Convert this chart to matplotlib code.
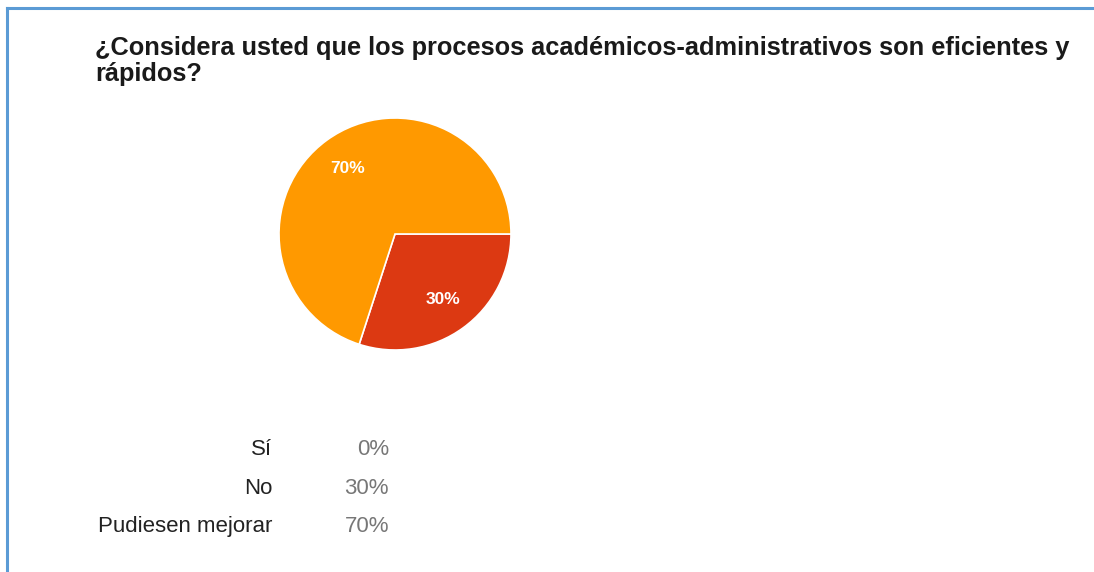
import matplotlib
matplotlib.use("Agg")
import matplotlib.pyplot as plt
from matplotlib.lines import Line2D

W, H = 1094, 572
title_lines = ["¿Considera usted que los procesos académicos-administrativos son eficientes y",
               "rápidos?"]
categories = ["Sí", "No", "Pudiesen mejorar"]
values = [0, 30, 70]
colors = ["#3366CC", "#DC3912", "#FF9900"]

plt.rcParams['font.family'] = ['Liberation Sans', 'DejaVu Sans']
fig = plt.figure(figsize=(W / 100, H / 100), dpi=100)
fig.patch.set_facecolor("white")

def fx(x):
    return x / W

def fy(y):
    return 1 - y / H

# border
fig.add_artist(Line2D([fx(7), fx(W + 5)], [fy(8), fy(8)], color="#5B9BD5", lw=2.2))
fig.add_artist(Line2D([fx(7), fx(7)], [fy(8), fy(H + 5)], color="#5B9BD5", lw=2.2))

# title
fig.text(fx(95), fy(55), title_lines[0], fontsize=18.3, fontweight="bold", color="#1a1a1a", va="baseline")
fig.text(fx(95), fy(81), title_lines[1], fontsize=18.3, fontweight="bold", color="#1a1a1a", va="baseline")

# pie
cx, cy, r = 395, 234, 116
ax = fig.add_axes([fx(cx - r), fy(cy + r), 2 * r / W, 2 * r / H])
ax.pie(values, colors=colors, startangle=0, counterclock=False, radius=1,
       autopct=lambda p: f"{p:.0f}%" if p > 0.5 else "", pctdistance=0.7,
       wedgeprops=dict(edgecolor="white", linewidth=1.2),
       textprops=dict(color="white", fontsize=12.5, fontweight="bold"))
ax.set_xlim(-1.0, 1.0)
ax.set_ylim(-1.0, 1.0)
ax.set_aspect("equal")
ax.axis("off")

# table
baselines = [455, 494, 532]
for cat, val, yb in zip(categories, values, baselines):
    fig.text(fx(272), fy(yb), cat, fontsize=16, color="#222222", ha="right", va="baseline")
    fig.text(fx(389), fy(yb), f"{val}%", fontsize=16, color="#777777", ha="right", va="baseline")

fig.savefig("out.png", dpi=100)
